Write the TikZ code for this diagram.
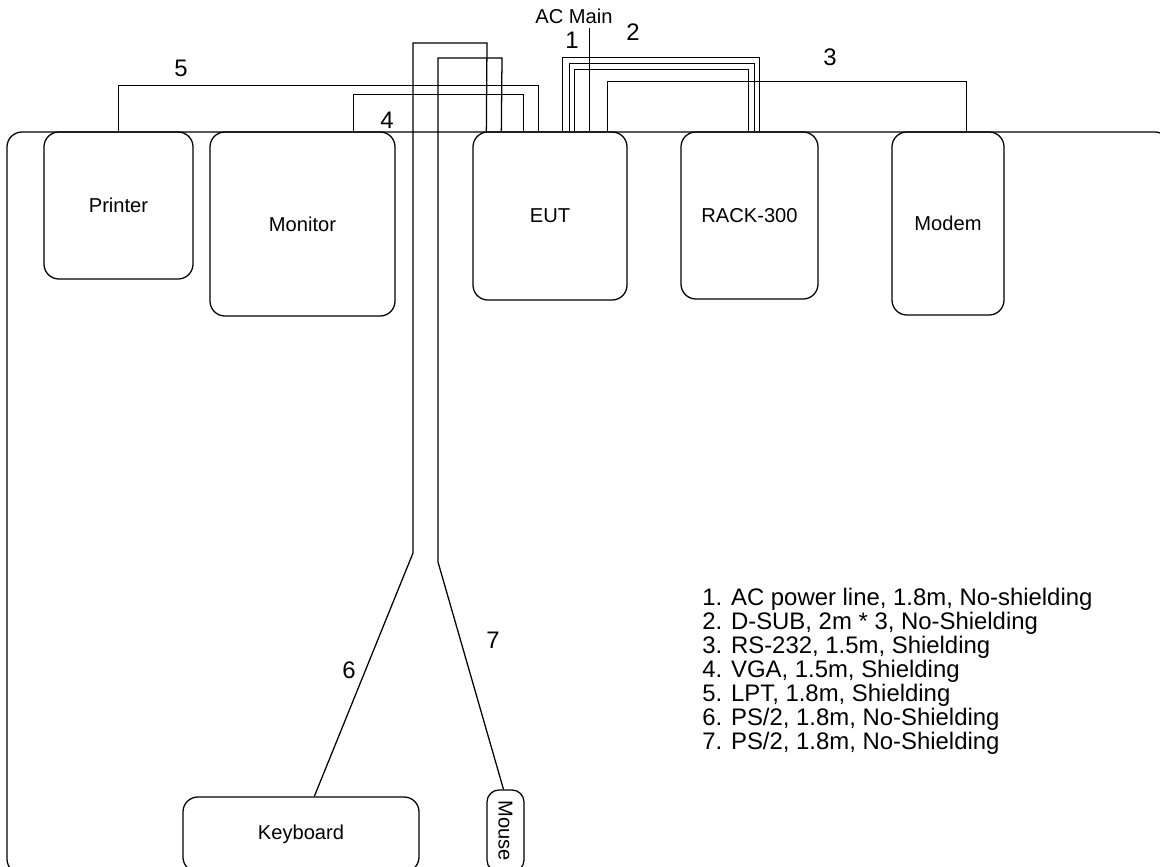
\documentclass[tikz,border=0pt]{standalone}
\usepackage{fontspec}
\setmainfont{Liberation Sans}
\usetikzlibrary{positioning,calc}

\begin{document}
\begin{tikzpicture}[
    x=0.025cm, y=-0.025cm,
    unit/.style={draw, rounded corners=0.375cm, line width=0.9pt, inner sep=0pt, font=\fontsize{14.3}{16}\selectfont},
    cable/.style={line width=0.9pt},
    num/.style={inner sep=0pt, font=\fontsize{17}{19}\selectfont},
    legend/.style={anchor=base west, inner sep=0pt, font=\fontsize{17}{19}\selectfont}
]
\useasboundingbox (0,0) rectangle (1160,867);

% Table
\draw[cable, rounded corners=0.375cm] (7,132) rectangle (1170,874);

% Units on the table
\node[unit, minimum width=3.725cm, minimum height=3.675cm] (printer) at (118.5,205.5) {Printer};
\node[unit, minimum width=4.625cm, minimum height=4.6cm] (monitor) at (302.5,224) {Monitor};
\node[unit, minimum width=3.85cm, minimum height=4.2cm] (eut) at (550,216) {EUT};
\node[unit, minimum width=3.425cm, minimum height=4.175cm] (rack) at (749.5,215.5) {RACK-300};
\node[unit, minimum width=2.8cm, minimum height=4.575cm] (modem) at (948,223.5) {Modem};

% Keyboard and mouse
\node[unit, minimum width=5.9cm, minimum height=1.875cm] (keyboard) at (301,834.5) {Keyboard};
\node[unit, rounded corners=0.3cm, minimum width=0.925cm, minimum height=2.05cm] (mouse) at (505.5,831) {\rotatebox{-90}{Mouse}};

% AC main
\node[inner sep=0pt, font=\fontsize{14.3}{16}\selectfont] (acmain) at (574,16) {AC Main};
\draw[cable] ($(eut.north west)+(117,0)$) -- ++(0,-103);

% 5: LPT
\draw[cable] (printer.north) -- ++(0,-46) -| ($(eut.north west)+(66,0)$);
% 4: VGA
\draw[cable] ($(monitor.north west)+(144,0)$) -- ++(0,-37) -| ($(eut.north west)+(51,0)$);
% 2: D-SUB * 3
\foreach \l/\r/\h in {90/79/74, 97/74/68, 102/68/62}
    \draw[cable] ($(eut.north west)+(\l,0)$) -- ++(0,-\h) -| ($(rack.north west)+(\r,0)$);
% 3: RS-232
\draw[cable] ($(eut.north west)+(135,0)$) -- ++(0,-50) -| ($(modem.north west)+(75,0)$);
% 6 and 7: PS/2
\coordinate (kbbend) at (413,553);
\coordinate (msbend) at (438,562);
\draw[cable] ($(keyboard.north west)+(132,0)$) -- (kbbend) |- (487,43) -- ($(eut.north west)+(14,0)$);
\draw[cable] ($(mouse.north)+(-2,0)$) -- (msbend) |- (502,58) -- ($(eut.north west)+(29,0)$);

% Cable numbers
\node[num] (n1) at (572,40) {1};
\node[num] (n2) at (633,32) {2};
\node[num] (n3) at (830,57) {3};
\node[num] (n4) at (387,120) {4};
\node[num] (n5) at (181,68) {5};
\node[num] (n6) at (349,670) {6};
\node[num] (n7) at (493,640) {7};

% Legend
\node[legend] (leg1) at (702,605) {1. AC power line, 1.8m, No-shielding};
\node[legend] (leg2) at (702,629) {2. D-SUB, 2m * 3, No-Shielding};
\node[legend] (leg3) at (702,653) {3. RS-232, 1.5m, Shielding};
\node[legend] (leg4) at (702,677) {4. VGA, 1.5m, Shielding};
\node[legend] (leg5) at (702,701) {5. LPT, 1.8m, Shielding};
\node[legend] (leg6) at (702,725) {6. PS/2, 1.8m, No-Shielding};
\node[legend] (leg7) at (702,749) {7. PS/2, 1.8m, No-Shielding};

\end{tikzpicture}
\end{document}
